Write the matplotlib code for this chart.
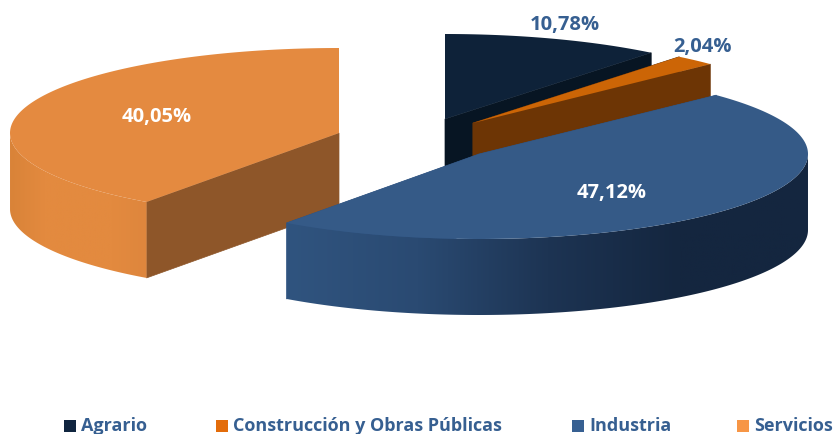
import numpy as np
import matplotlib
matplotlib.use('Agg')
import matplotlib.pyplot as plt
from matplotlib.colors import LinearSegmentedColormap
from matplotlib.patches import Polygon, Rectangle

categories = ['Agrario', 'Construcción y Obras Públicas', 'Industria', 'Servicios']
values = [10.78, 2.04, 47.12, 40.05]
labels = ['10,78%', '2,04%', '47,12%', '40,05%']

# exploded slice apex in pixels, the pie is squashed to an ellipse
centers = [(445, 119), (473, 123), (479, 154), (339, 133)]
rx = 329
ry = 85
depth = 76

top_colors = ['#0e2239', '#cc6506', '#355a87', '#e48a40']
side_colors = ['#071523', '#6d3505', '#2f5382', '#8e5629']
wall_colors = [['#0e2239', '#0a1a2c'],
               ['#cc6506', '#a85305'],
               ['#30547f', '#2a4a72', '#1d3453', '#14263f', '#14263f'],
               ['#d98338', '#e38a3f', '#e38a3f', '#e38a3f', '#de863d']]
legend_colors = ['#10253f', '#e36c0a', '#376092', '#f79646']
legend_x = [64, 216, 572, 737]
label_pos = [(565, 25), (703, 47), (612, 193), (157, 117)]
label_colors = ['#365f91', '#365f91', 'white', 'white']

plt.rcParams['font.family'] = ['Open Sans', 'DejaVu Sans']

fig = plt.figure(figsize=(8.33, 4.34), dpi=100)
ax = fig.add_axes([0, 0, 1, 1])


def arc(cx, cy, a0, a1):
    # angles go clockwise from 12 o'clock, like the pie
    t = np.radians(np.linspace(a0, a1, 200))
    return cx + rx * np.sin(t), cy - ry * np.cos(t)


def draw_slice(i, a0, a1, z):
    cx, cy = centers[i]
    x, y = arc(cx, cy, a0, a1)

    # cut faces, a face seen edge on is skipped
    for ex, ey in [(x[0], y[0]), (x[-1], y[-1])]:
        if abs(ex - cx) < 1:
            continue
        face = [(cx, cy), (ex, ey), (ex, ey + depth), (cx, cy + depth)]
        ax.add_patch(Polygon(face, closed=True, fc=side_colors[i], ec=side_colors[i], lw=0.5, zorder=z))

    # rim wall, only the part facing the viewer
    t = np.linspace(a0, a1, 200)
    front = (t % 360 > 90) & (t % 360 < 270)
    if front.any():
        fx, fy = x[front], y[front]
        wall = np.r_[np.c_[fx, fy], np.c_[fx[::-1], fy[::-1] + depth]]
        patch = Polygon(wall, closed=True, fc='none', ec='none', zorder=z + 0.1)
        ax.add_patch(patch)
        cmap = LinearSegmentedColormap.from_list('w%d' % i, wall_colors[i])
        grad = np.linspace(0, 1, 256).reshape(1, -1)
        im = ax.imshow(grad, cmap=cmap, aspect='auto', zorder=z + 0.1,
                       extent=(wall[:, 0].min(), wall[:, 0].max(), wall[:, 1].max(), wall[:, 1].min()))
        im.set_clip_path(patch)

    # top
    top = np.r_[[(cx, cy)], np.c_[x, y]]
    ax.add_patch(Polygon(top, closed=True, fc=top_colors[i], ec='none', zorder=z + 0.2))


edges = np.r_[0, np.cumsum(values)] / sum(values) * 360
# back slices first, Industria sits in front
for i, z in zip([0, 1, 3, 2], [1, 2, 3, 4]):
    draw_slice(i, edges[i], edges[i + 1], z)

for i, txt in enumerate(labels):
    ax.text(label_pos[i][0], label_pos[i][1], txt, color=label_colors[i], fontsize=14.5,
            fontweight='bold', ha='center', va='center', zorder=10)

for i, name in enumerate(categories):
    ax.add_patch(Rectangle((legend_x[i], 420), 12, 12, fc=legend_colors[i], ec='none'))
    ax.text(legend_x[i] + 17, 426, name, color='#365f91', fontsize=13, fontweight='bold',
            ha='left', va='center')

ax.set_xlim(0, 833)
ax.set_ylim(434, 0)
ax.axis('off')
fig.savefig('out.png', dpi=100)
